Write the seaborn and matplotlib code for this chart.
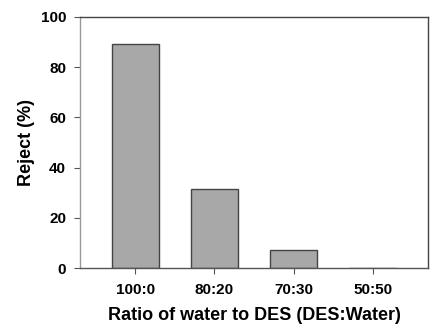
import matplotlib
matplotlib.use("Agg")
import matplotlib.pyplot as plt
import seaborn as sns
import pandas as pd

categories = ["100:0", "80:20", "70:30", "50:50"]
reject = [89.4, 31.5, 7.2, 0.0]
yticks = [0, 20, 40, 60, 80, 100]

sns.set_style("white")
plt.rcParams['font.family'] = ['Liberation Sans', 'DejaVu Sans']
plt.rcParams['font.weight'] = 'bold'
plt.rcParams['text.color'] = 'black'
plt.rcParams['axes.labelcolor'] = 'black'
plt.rcParams['xtick.color'] = 'black'
plt.rcParams['ytick.color'] = 'black'

df = pd.DataFrame({"ratio": categories, "reject": reject})

fig = plt.figure(figsize=(4.42, 3.3), dpi=100)
ax = fig.add_axes([80/442, 1 - 268/330, 348/442, 251/330])
sns.barplot(data=df, x="ratio", y="reject", color="#a8a8a8", saturation=1,
            edgecolor="#444444", linewidth=1.0, width=0.6, ax=ax)
ax.set_xlim(-0.7, 3.7)
ax.set_ylim(0, 100)
ax.set_yticks(yticks)
ax.set_yticklabels([str(t) for t in yticks], fontsize=11, fontweight='bold', color='black')
ax.set_xticks(range(len(categories)))
ax.set_xticklabels(categories, fontsize=11, fontweight='bold', color='black')
ax.tick_params(axis='both', which='major', direction='out', length=4, width=0.8,
               color='#555555', left=True, bottom=True, pad=6)
ax.tick_params(axis='x', pad=7)
ax.set_xlabel("Ratio of water to DES (DES:Water)", fontsize=13, fontweight='bold',
              labelpad=7, color='black')
ax.set_ylabel("Reject (%)", fontsize=13, fontweight='bold', labelpad=4, color='black')
for side in ["top", "right"]:
    ax.spines[side].set_color("#444444")
    ax.spines[side].set_linewidth(1.0)
    ax.spines[side].set_visible(True)
ax.spines["left"].set_color("#999999")
ax.spines["bottom"].set_color("#555555")
ax.spines["left"].set_linewidth(1.0)
ax.spines["bottom"].set_linewidth(1.0)
fig.savefig("out.png", dpi=100)
